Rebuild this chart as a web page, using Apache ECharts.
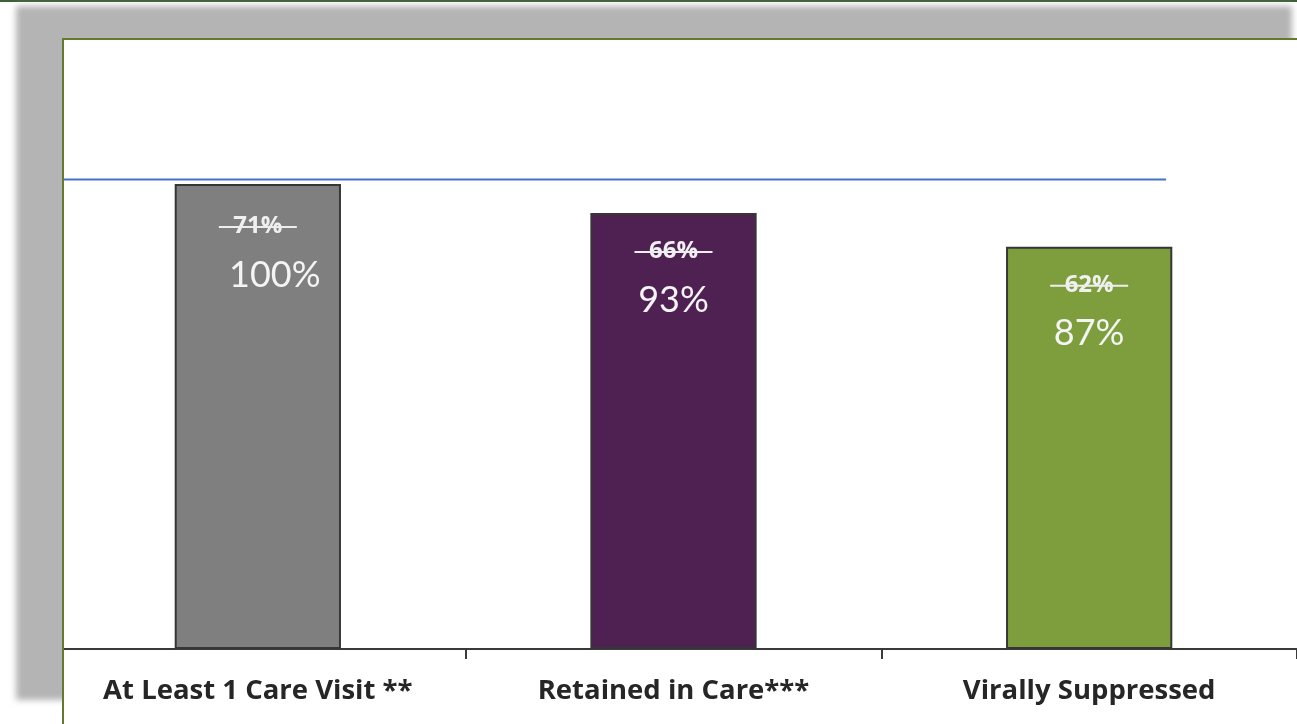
<!DOCTYPE html>
<html>
<head>
<meta charset="utf-8">
<script src="https://cdn.jsdelivr.net/npm/echarts@6/dist/echarts.min.js"></script>
<style>
  html, body { margin:0; padding:0; width:1297px; height:724px; overflow:hidden; background:#ffffff; }
  #topline { position:absolute; left:0; top:0; width:1297px; height:2px; background:#3f5f3a; }
  #shadow { position:absolute; left:16px; top:6px; width:1276px; height:694px; background:#b4b4b4; filter:blur(3px); }
  #panel { position:absolute; left:62px; top:38px; width:1250px; height:700px; background:#ffffff;
           border-left:2px solid #627a2c; border-top:2px solid #627a2c; overflow:hidden; }
  #chart { position:absolute; left:-14px; top:0px; width:1247px; height:684px; }
</style>
</head>
<body>
<div id="topline"></div>
<div id="shadow"></div>
<div id="panel"><div id="chart"></div></div>
<script>
// ---- data ----
const categories = ['At Least 1 Care Visit **', 'Retained in Care***', 'Virally Suppressed'];
const barValues = [100, 93.8, 86.5];          // bar heights (% scale)
const valueLabels = ['100%', '93%', '87%'];    // printed labels
const oldLabels = ['71%', '66%', '62%'];       // struck-through earlier values
const barColors = ['#7f7f7f', '#4f2153', '#7e9e3e'];
const targetLine = [[0, 101], [2.685, 101]];   // blue reference line (x in category units)

const chart = echarts.init(document.getElementById('chart'), null, { renderer: 'canvas' });
chart.setOption({
  backgroundColor: 'transparent',
  animation: false,
  grid: { left: 0, right: 0, top: 0, bottom: 75, containLabel: false },
  xAxis: [
    {
      type: 'category',
      data: categories,
      axisLine: { lineStyle: { color: '#3a3a3a', width: 2 } },
      axisTick: { show: true, length: 10, lineStyle: { color: '#3a3a3a', width: 2 } },
      axisLabel: { color: '#262626', fontFamily: 'Open Sans', fontWeight: 'bold', fontSize: 27.5, margin: 28 }
    },
    { type: 'value', min: 0, max: 3, show: false }
  ],
  yAxis: { type: 'value', min: 0, max: 131, show: false, splitLine: { show: false } },
  series: [
    {
      type: 'bar',
      xAxisIndex: 0,
      barWidth: '40%',
      data: barValues.map((v, i) => ({
        value: v,
        itemStyle: { color: barColors[i], borderColor: '#363636', borderWidth: 2 },
        label: i === 0 ? { distance: 16 } : {}
      })),
      label: {
        show: true,
        position: 'insideTop',
        distance: 12,
        formatter: p => '{a|' + oldLabels[p.dataIndex] + '}\n{' + (p.dataIndex === 0 ? 'c' : 'b') + '|' + valueLabels[p.dataIndex] + '}',
        rich: {
          a: { fontFamily: 'Open Sans', fontWeight: 'bold', fontSize: 24, color: '#f0f0f0', lineHeight: 52, align: 'center' },
          b: { fontFamily: 'Lato', fontSize: 36, color: '#f4f4f4', lineHeight: 46, align: 'center' },
          c: { fontFamily: 'Lato', fontSize: 36, color: '#f4f4f4', lineHeight: 46, align: 'center', padding: [0, 0, 0, 34] }
        }
      }
    },
    {
      // strike-through rule over the earlier values
      type: 'bar',
      xAxisIndex: 0,
      barWidth: '40%',
      barGap: '-100%',
      silent: true,
      data: barValues.map((v, i) => ({
        value: v,
        itemStyle: { color: 'transparent' },
        label: i === 0 ? { distance: 42 } : {}
      })),
      label: {
        show: true,
        position: 'insideTop',
        distance: 38,
        formatter: '{s|}',
        rich: { s: { width: 78, height: 2, backgroundColor: '#eeeeee' } }
      }
    },
    {
      type: 'line',
      xAxisIndex: 1,
      data: targetLine,
      showSymbol: false,
      silent: true,
      lineStyle: { color: '#4472c4', width: 2 }
    }
  ]
});
</script>
</body>
</html>
